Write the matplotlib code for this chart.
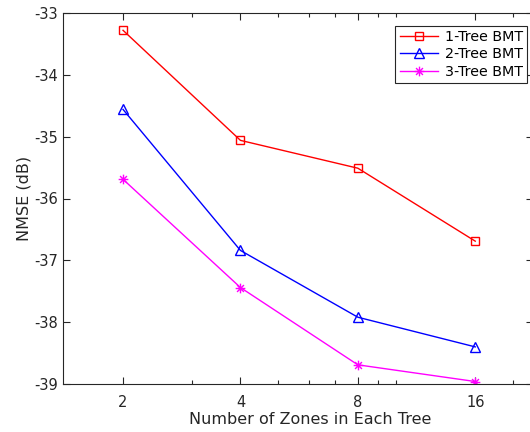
import matplotlib
matplotlib.use("Agg")
import matplotlib.pyplot as plt
from matplotlib.ticker import FixedLocator, NullFormatter
from matplotlib.path import Path
import numpy as np

zones = [2, 4, 8, 16]
tree1 = [-33.28, -35.06, -35.51, -36.69]
tree2 = [-34.56, -36.84, -37.92, -38.40]
tree3 = [-35.69, -37.44, -38.69, -38.96]
labels = ["1-Tree BMT", "2-Tree BMT", "3-Tree BMT"]

plt.rcParams['font.family'] = ['DejaVu Sans']
plt.rcParams['axes.unicode_minus'] = False
fig = plt.figure(figsize=(5.30, 4.32), dpi=100)
W, H = 530, 432
L, R, T, B = 63, 533, 13, 384
ax = fig.add_axes([L / W, 1 - B / H, (R - L) / W, (B - T) / H])

# MATLAB-style asterisk marker (+ and x overlaid)
verts, codes = [], []
for ang in np.arange(0, 180, 45):
    a = np.deg2rad(ang)
    dx, dy = np.cos(a), np.sin(a)
    verts += [(-dx, -dy), (dx, dy)]
    codes += [Path.MOVETO, Path.LINETO]
asterisk = Path(verts, codes)

dark = (0.15, 0.15, 0.15)
ax.plot(zones, tree1, '-s', color='red', lw=1.0, ms=5.5, mfc='none', mew=1.0, label=labels[0])
ax.plot(zones, tree2, '-^', color='blue', lw=1.0, ms=7, mfc='none', mew=1.0, label=labels[1])
ax.plot(zones, tree3, '-', marker=asterisk, color='magenta', lw=1.0, ms=7, mfc='none', mew=1.0, label=labels[2])

ax.set_xscale('log')
ax.set_xlim(1.403, 22.5)
ax.set_ylim(-39, -33)
ax.xaxis.set_major_locator(FixedLocator(zones))
ax.set_xticklabels([str(z) for z in zones])
ax.xaxis.set_minor_locator(FixedLocator([3, 5, 6, 7, 9, 10, 20]))
ax.xaxis.set_minor_formatter(NullFormatter())
ax.set_yticks([-39, -38, -37, -36, -35, -34, -33])

for s in ax.spines.values():
    s.set_color(dark)
    s.set_linewidth(0.8)
ax.tick_params(which='both', direction='in', top=True, right=True, colors=dark, labelsize=10.5)
ax.tick_params(which='major', length=5, width=0.8)
ax.tick_params(which='minor', length=3, width=0.8)
for lab in ax.get_xticklabels() + ax.get_yticklabels():
    lab.set_color(dark)
ax.tick_params(axis='x', pad=8)

ax.set_xlabel("Number of Zones in Each Tree", fontsize=11.5, color=dark)
ax.set_ylabel("NMSE (dB)", fontsize=11.5, color=dark)
ax.xaxis.set_label_coords((310 - L) / (R - L), -(412 - B) / (B - T))
ax.yaxis.set_label_coords(-(L - 32) / (R - L), 0.5)

leg = ax.legend(loc='upper right', bbox_to_anchor=((527 - L) / (R - L), (B - 26) / (B - T)),
                fontsize=10.3, frameon=True, fancybox=False, framealpha=1, edgecolor=dark,
                handlelength=2.7, handletextpad=0.45, borderpad=0.3, labelspacing=0.22,
                borderaxespad=0.0)
leg.get_frame().set_linewidth(0.8)

fig.savefig("out.png", dpi=100)
